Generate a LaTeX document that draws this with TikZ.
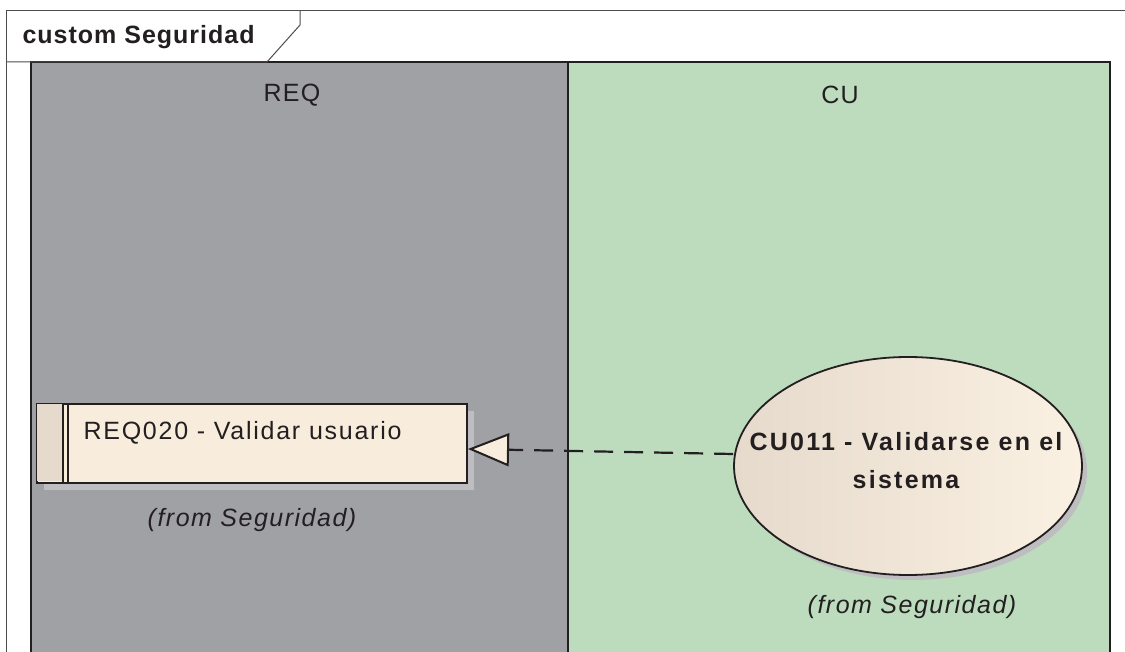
\documentclass[tikz,border=0pt]{standalone}
\usepackage{fontspec}
\setmainfont{Liberation Sans}
\usetikzlibrary{shapes.geometric,arrows.meta}
\definecolor{lanegray}{HTML}{A0A1A5}
\definecolor{lanegreen}{HTML}{BDDCBE}
\definecolor{creamL}{HTML}{E5DACB}
\definecolor{creamR}{HTML}{FBF1E3}
\definecolor{cream}{HTML}{F8EDDD}
\definecolor{shadowgray}{HTML}{BEBEC0}
\definecolor{ink}{HTML}{231F20}
\newcommand{\wide}[1]{\addfontfeature{LetterSpace=#1}}
\tikzset{
  lane/.style={draw=ink, line width=1.6pt},
  lanetitle/.style={font=\fontsize{25}{28}\selectfont\wide{5}, text=ink},
  fromlbl/.style={font=\fontsize{25}{28}\selectfont\itshape\wide{6}, text=ink},
  framebox/.style={draw=ink!80, line width=1pt},
}
\begin{document}
\begin{tikzpicture}[x=1pt,y=-1pt]
\useasboundingbox (0,0) rectangle (1125,652);
\fill[white] (0,0) rectangle (1125,652);
% lanes
\fill[lanegray] (31,62) rectangle (568,660);
\fill[lanegreen] (568,62) rectangle (1110,660);
\draw[lane] (31,660) -- (31,62) -- (1110,62) -- (1110,660);
\draw[lane] (568,62) -- (568,660);
% frame
\draw[framebox] (6,660) -- (6,11) -- (1130,11);
\draw[framebox] (6,62) -- (267,62) -- (300,25) -- (300,11);
\node[anchor=west, font=\fontsize{25}{28}\selectfont\bfseries\wide{4}, text=ink] (ftitle) at (19,37) {custom Seguridad};
\node[lanetitle] (reqt) at (292,95) {REQ};
\node[lanetitle] (cut) at (840,95) {CU};
% requirement box
\fill[shadowgray] (44,411) rectangle (474,490);
\node[draw=ink, line width=1.8pt, fill=cream, minimum width=430pt, minimum height=79pt, anchor=north west, inner sep=0pt] (req) at (36,403) {};
\fill[creamL] (37,404) rectangle (63,481);
\draw[ink, line width=1.3pt] (63,403) -- (63,482);
\draw[ink, line width=1.3pt] (68,403) -- (68,482);
\node[anchor=west, font=\fontsize{25}{28}\selectfont\wide{7}, text=ink] (reqtxt) at (80,433) {REQ020 - Validar usuario};
\node[fromlbl] (reqfrom) at (252,520) {(from Seguridad)};
% use case ellipse
\fill[shadowgray] (913,471) ellipse [x radius=174pt, y radius=109pt];
\node[ellipse, draw=ink, line width=1.8pt, left color=creamL, right color=creamR, minimum width=348pt, minimum height=218pt, inner sep=0pt] (cu) at (908,466) {};
\node[font=\fontsize{25}{38}\selectfont\bfseries\wide{9}, text=ink, align=center] (cutxt) at (906,461) {CU011 - Validarse en el\\sistema};
\node[fromlbl] (cufrom) at (912,607) {(from Seguridad)};
% realization
\coordinate (tip) at (468,449);
\draw[ink, line width=2.2pt, dash pattern=on 19pt off 11pt, -{Triangle[open, length=41pt, width=33pt, fill=cream, line width=2pt]}] (cu.west |- 0,454) -- (tip);
\end{tikzpicture}
\end{document}
